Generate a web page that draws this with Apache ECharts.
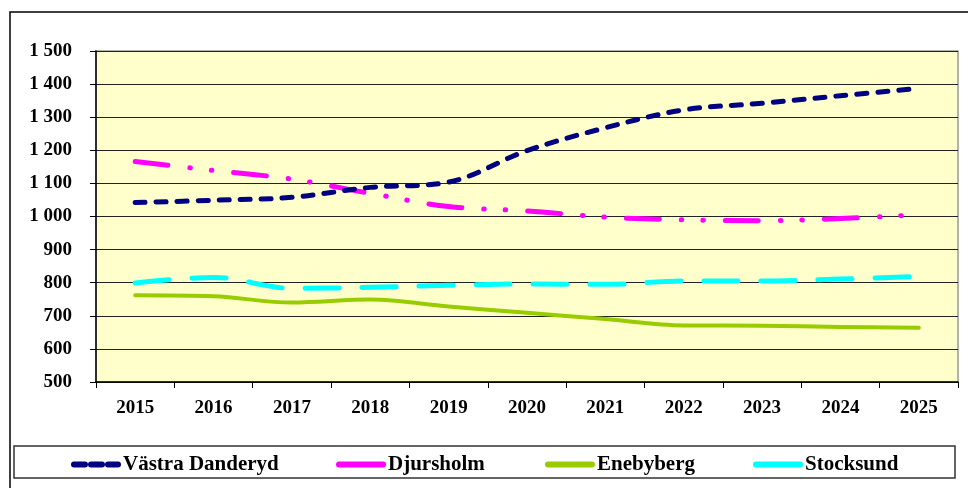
<!DOCTYPE html>
<html>
<head>
<meta charset="utf-8">
<script src="https://cdn.jsdelivr.net/npm/echarts@6/dist/echarts.min.js"></script>
<style>
html,body{margin:0;padding:0;background:#fff;}
#c{width:968px;height:488px;}
</style>
</head>
<body>
<div id="c"></div>
<script>
var years = ['2015','2016','2017','2018','2019','2020','2021','2022','2023','2024','2025'];
var vastraDanderyd = [1042, 1049, 1058, 1088, 1104, 1199, 1268, 1322, 1342, 1365, 1387];
var djursholm = [1166, 1139, 1113, 1070, 1030, 1017, 998, 990, 987, 994, 1005];
var enebyberg = [762, 759, 740, 749, 728, 709, 690, 671, 670, 666, 664];
var stocksund = [799, 816, 783, 786, 792, 796, 795, 805, 805, 811, 819];
var seriesNames = ['Västra Danderyd', 'Djursholm', 'Enebyberg', 'Stocksund'];
var yTicks = [500, 600, 700, 800, 900, 1000, 1100, 1200, 1300, 1400, 1500];

var FONT = 'Liberation Serif';
function fmt(v){ var s = String(v); return s.length > 3 ? s.slice(0, s.length-3) + ' ' + s.slice(-3) : s; }

var chart = echarts.init(document.getElementById('c'));
var styles = [
  {color:'#000080', type:[10,11], width:5},
  {color:'#FF00FF', type:[33,22,0.5,21,0.5,22], width:5},
  {color:'#99CC00', type:'solid', width:4},
  {color:'#00FFFF', type:[34,23], width:5}
];
var datas = [vastraDanderyd, djursholm, enebyberg, stocksund];
var legendLeft = [66, 331, 540, 748];
var legendTypes = [[11,6], 'solid', 'solid', 'solid'];

var legends = [];
for (var i = 0; i < seriesNames.length; i++) {
  legends.push({
    show: true,
    data: [seriesNames[i]],
    left: legendLeft[i], top: 449,
    itemWidth: 44, itemHeight: 14, itemGap: 4,
    itemStyle: {opacity: 0},
    textStyle: {fontFamily: FONT, fontWeight: 'bold', fontSize: 21, color: '#000'},
    lineStyle: {width: 6, type: legendTypes[i], cap: 'round'}
  });
}

var option = {
  animation: false,
  backgroundColor: '#ffffff',
  graphic: [
    {type:'polyline', shape:{points:[[10,488],[10,12],[968,12]]}, style:{stroke:'#000', lineWidth:1.5, fill:null}, z:100},
    {type:'rect', shape:{x:14, y:446, width:941, height:32}, style:{stroke:'#333', lineWidth:1.5, fill:null}, z:100}
  ],
  grid: {left:96, top:51, right:10, bottom:106, show:true, backgroundColor:'#FFFFCC', borderColor:'#999', borderWidth:1.5},
  legend: legends,
  xAxis: {
    type:'category', data: years, boundaryGap:true,
    axisLine:{lineStyle:{color:'#000', width:1.5}},
    axisTick:{show:true, length:6, lineStyle:{color:'#000'}},
    axisLabel:{fontFamily:FONT, fontWeight:'bold', fontSize:19, color:'#000', margin:17},
    splitLine:{show:false}
  },
  yAxis: {
    type:'value', min:500, max:1500, interval:100,
    axisLine:{show:true, lineStyle:{color:'#000', width:1.5}},
    axisTick:{show:true, length:6, lineStyle:{color:'#000'}},
    axisLabel:{fontFamily:FONT, fontWeight:'bold', fontSize:19, color:'#000', margin:24, formatter:function(v){ return fmt(v); }},
    splitLine:{show:true, lineStyle:{color:'#222', width:1.2}}
  },
  series: seriesNames.map(function(n,i){
    return {
      name:n, type:'line', data: datas[i], smooth:0.35, symbol:'none', showSymbol:false,
      itemStyle:{color: styles[i].color},
      lineStyle:{color: styles[i].color, width: styles[i].width, type: styles[i].type, cap:'round', join:'round'},
      z: 10 - i
    };
  })
};
chart.setOption(option);
</script>
</body>
</html>
